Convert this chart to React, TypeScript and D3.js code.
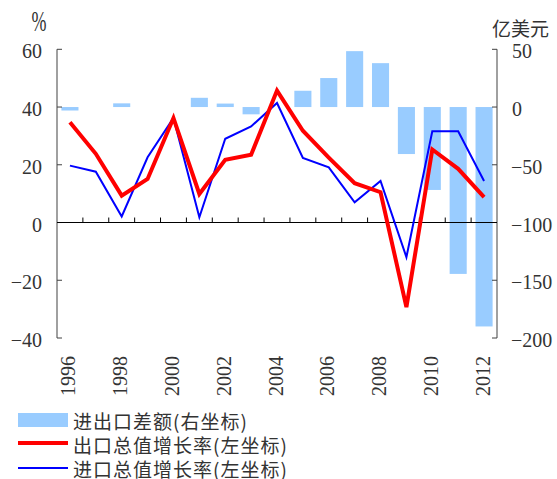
import React from "react";
import * as d3 from "d3";

const years = [1996,1997,1998,1999,2000,2001,2002,2003,2004,2005,2006,2007,2008,2009,2010,2011,2012];
const exportGrowth = [34.7, 23.8, 9.3, 15.1, 36.2, 9.9, 21.7, 23.5, 45.7, 31.8, 22.5, 13.6, 10.5, -29.3, 25.3, 18.6, 8.8];
const importGrowth = [19.7, 17.6, 2.1, 22.6, 36.2, 1.8, 29.0, 33.3, 41.4, 22.4, 19.1, 7.0, 14.4, -12.0, 31.6, 31.6, 14.4];
const tradeBalance = [-3, 0, 3.2, 0, 0, 8, 3, -6.3, 0, 14.1, 25.1, 48.4, 38, -40.7, -71.8, -144.5, -190];
const leftTicks = [60, 40, 20, 0, -20, -40];
const rightTicks = [50, 0, -50, -100, -150, -200];
const yearLabels = [1996, 1998, 2000, 2002, 2004, 2006, 2008, 2010, 2012];
const legendLabels = ["进出口差额(右坐标)", "出口总值增长率(左坐标)", "进口总值增长率(左坐标)"];

const NUM_FONT = "'Liberation Serif', 'DejaVu Serif', serif";
const CJK_FONT = "'Noto Sans CJK SC', 'Noto Sans', sans-serif";

const fmt = (v: number) => (v < 0 ? "\u2212" + Math.abs(v) : String(v));

export default function App() {
  const W = 557, H = 479;
  const left = 57, right = 497, top = 49.3, bottom = 338;
  const x = d3.scaleBand<number>().domain(years).range([left, right]).paddingInner(0.34).paddingOuter(0.17);
  const yL = d3.scaleLinear().domain([-40, 60]).range([bottom, top]);
  const yR = d3.scaleLinear().domain([-200, 50]).range([bottom, top]);
  const cx = (y: number) => (x(y) as number) + x.bandwidth() / 2;
  const step = (right - left) / years.length;

  const line = d3.line<number>().x((_, i) => cx(years[i])).y((d) => yL(d));

  return (
    <svg width={W} height={H} style={{ position: "absolute", left: 0, top: 0 }}>
      <rect width={W} height={H} fill="#fff" />
      {/* bars */}
      {tradeBalance.map((v, i) =>
        v === 0 ? null : (
          <rect key={i} x={x(years[i])} width={x.bandwidth()}
            y={Math.min(yR(v), yR(0))} height={Math.abs(yR(v) - yR(0))} fill="#99CCFF" />
        )
      )}
      {/* left axis */}
      <line x1={left} x2={left} y1={top} y2={bottom} stroke="#808080" strokeWidth={1.5} />
      {leftTicks.map((t) => (
        <g key={t}>
          <line x1={left} x2={left + 5} y1={yL(t)} y2={yL(t)} stroke="#404040" strokeWidth={1} />
          <text x={42} y={yL(t) + 2} textAnchor="end" dominantBaseline="central"
            fontFamily={NUM_FONT} fontSize={20} fill="#333">{fmt(t)}</text>
        </g>
      ))}
      {/* right axis */}
      <line x1={right} x2={right} y1={top} y2={bottom} stroke="#808080" strokeWidth={1.5} />
      {rightTicks.map((t) => (
        <g key={t}>
          <line x1={right - 5} x2={right} y1={yR(t)} y2={yR(t)} stroke="#404040" strokeWidth={1} />
          <text x={t < 0 ? 511 : 512} y={yR(t) + 2} textAnchor="start" dominantBaseline="central"
            fontFamily={NUM_FONT} fontSize={20} fill="#333">{fmt(t)}</text>
        </g>
      ))}
      {/* zero line with category ticks */}
      <line x1={left} x2={right} y1={yL(0)} y2={yL(0)} stroke="#000" strokeWidth={1.2} />
      {d3.range(1, years.length).map((i) => (
        <line key={i} x1={left + i * step} x2={left + i * step} y1={yL(0)} y2={yL(0) - 5} stroke="#000" strokeWidth={1} />
      ))}
      {/* lines */}
      <path d={line(importGrowth) as string} fill="none" stroke="#0000FF" strokeWidth={2} strokeLinejoin="miter" />
      <path d={line(exportGrowth) as string} fill="none" stroke="#FF0000" strokeWidth={4} strokeLinejoin="miter" />
      {/* year labels */}
      {yearLabels.map((yr) => (
        <text key={yr} transform={`translate(${cx(yr) - 1.5},356) rotate(-90)`} textAnchor="end"
          dominantBaseline="central" fontFamily={NUM_FONT} fontSize={20} fill="#333">{yr}</text>
      ))}
      {/* unit labels */}
      <text x={0} y={0} textAnchor="middle" fontFamily={NUM_FONT} fontSize={30} fill="#333"
        transform="translate(39,31) scale(0.6,1)">%</text>
      <text x={492} y={36} fontFamily={CJK_FONT} fontSize={19} fill="#333">亿美元</text>
      {/* legend */}
      <rect x={18} y={413} width={50} height={14} fill="#99CCFF" />
      <line x1={18} x2={68} y1={443} y2={443} stroke="#FF0000" strokeWidth={4} />
      <line x1={18} x2={68} y1={468} y2={468} stroke="#0000FF" strokeWidth={2} />
      {legendLabels.map((l, i) => (
        <text key={l} x={73} y={420 + i * 24} dominantBaseline="central" fontFamily={CJK_FONT}
          fontSize={19} letterSpacing={1} fill="#333">{l}</text>
      ))}
    </svg>
  );
}
